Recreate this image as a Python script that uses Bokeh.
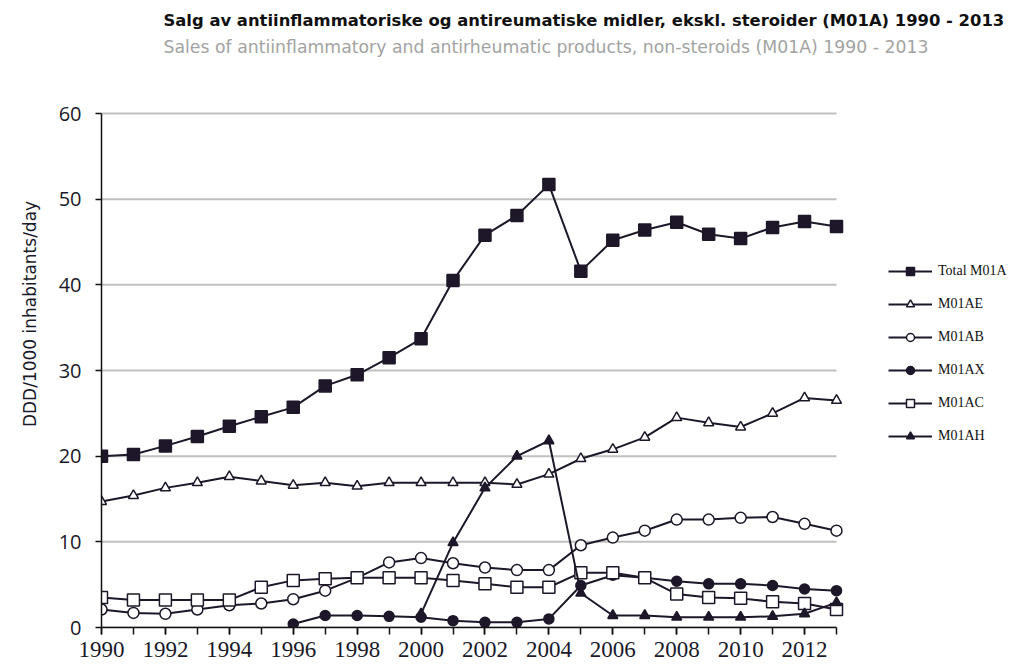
from bokeh.plotting import figure
from bokeh.models import (ColumnDataSource, FixedTicker, Range1d, Label, Legend, LegendItem)
from bokeh.embed import file_html
from bokeh.resources import INLINE

years = list(range(1990, 2014))

total_m01a = [20.0, 20.2, 21.2, 22.3, 23.5, 24.6, 25.7, 28.2, 29.5, 31.5, 33.7, 40.5,
              45.8, 48.1, 51.7, 41.6, 45.2, 46.4, 47.3, 45.9, 45.4, 46.7, 47.4, 46.8]
m01ae = [14.7, 15.4, 16.3, 16.9, 17.6, 17.1, 16.6, 16.9, 16.5, 16.9, 16.9, 16.9,
         16.9, 16.7, 17.9, 19.7, 20.8, 22.2, 24.5, 23.9, 23.4, 25.0, 26.8, 26.5]
m01ab = [2.1, 1.7, 1.6, 2.1, 2.6, 2.8, 3.3, 4.3, 5.8, 7.6, 8.1, 7.5,
         7.0, 6.7, 6.7, 9.6, 10.5, 11.3, 12.6, 12.6, 12.8, 12.9, 12.1, 11.3]
m01ax_years = list(range(1996, 2014))
m01ax = [0.4, 1.4, 1.4, 1.3, 1.2, 0.8, 0.6, 0.6, 1.0, 4.9, 6.1, 5.8,
         5.4, 5.1, 5.1, 4.9, 4.5, 4.3]
m01ac = [3.5, 3.2, 3.2, 3.2, 3.2, 4.7, 5.5, 5.7, 5.8, 5.8, 5.8, 5.5,
         5.1, 4.7, 4.7, 6.4, 6.4, 5.8, 3.9, 3.5, 3.4, 3.0, 2.8, 2.1]
m01ah_years = list(range(2000, 2014))
m01ah = [1.6, 9.9, 16.3, 20.0, 21.8, 4.0, 1.4, 1.4, 1.2, 1.2, 1.2, 1.3, 1.6, 2.9]

x_tick_labels = [str(y) for y in range(1990, 2014, 2)]
y_ticks = [0, 10, 20, 30, 40, 50, 60]

title_text = "Salg av antiinflammatoriske og antireumatiske midler, ekskl. steroider (M01A) 1990 - 2013"
subtitle_text = "Sales of antiinflammatory and antirheumatic products, non-steroids (M01A) 1990 - 2013"
y_label = "DDD/1000 inhabitants/day"

# ---- layout (pixels) ----
W, H = 1015, 667
AX_L, AX_R, AX_T, AX_B = 101, 836, 113, 627   # axes box wanted on the page
X0, X1, Y0, Y1 = 1990, 2013, 0, 60
# frame spans to the right and top edge so titles/legend live inside it
x_end = X0 + (X1 - X0) * (W - AX_L) / (AX_R - AX_L)
y_end = Y0 + (Y1 - Y0) * AX_B / (AX_B - AX_T)

p = figure(width=W, height=H, output_backend="svg", toolbar_location=None,
           x_range=Range1d(X0, x_end), y_range=Range1d(Y0, y_end),
           min_border_left=AX_L, min_border_right=0,
           min_border_top=0, min_border_bottom=H - AX_B)
p.outline_line_color = None
p.background_fill_color = "white"
p.border_fill_color = "white"

line_col = "#1d1729"

# grid (limited to the axes box)
p.xgrid.grid_line_color = None
p.ygrid.grid_line_color = None
p.segment(x0=[X0] * len(y_ticks), x1=[X1] * len(y_ticks), y0=y_ticks, y1=y_ticks,
          line_color="#c0c0c0", line_width=2)

# axes
p.xaxis.bounds = (X0, X1)
p.xaxis.ticker = FixedTicker(ticks=[int(t) for t in x_tick_labels], minor_ticks=years)
p.xaxis.axis_line_color = "#111111"
p.xaxis.axis_line_width = 1.5
p.xaxis.major_tick_line_color = "#111111"
p.xaxis.major_tick_line_width = 1.5
p.xaxis.minor_tick_line_color = "#111111"
p.xaxis.minor_tick_line_width = 1.5
p.xaxis.major_tick_in = 0
p.xaxis.major_tick_out = 7
p.xaxis.minor_tick_in = 0
p.xaxis.minor_tick_out = 7
p.xaxis.major_label_text_font = "Liberation Serif"
p.xaxis.major_label_text_font_size = "23px"
p.xaxis.major_label_text_color = "#1a1a2a"
p.xaxis.major_label_standoff = 7

p.yaxis.bounds = (Y0, Y1)
p.yaxis.ticker = FixedTicker(ticks=y_ticks)
p.yaxis.axis_line_color = "#111111"
p.yaxis.axis_line_width = 1.5
p.yaxis.major_tick_line_color = "#111111"
p.yaxis.major_tick_line_width = 1.5
p.yaxis.major_tick_in = 0
p.yaxis.major_tick_out = 6
p.yaxis.minor_tick_line_color = None
p.yaxis.major_label_text_font = "Open Sans"
p.yaxis.major_label_text_font_size = "20px"
p.yaxis.major_label_text_color = "#1a1a2a"
p.yaxis.major_label_standoff = 14
p.yaxis.axis_label = y_label
p.yaxis.axis_label_text_font = "DejaVu Sans"
p.yaxis.axis_label_text_font_size = "17px"
p.yaxis.axis_label_text_font_style = "normal"
p.yaxis.axis_label_text_color = "#1a1a2a"
p.yaxis.axis_label_standoff = 16

def series(xs, ys, marker, fill, size):
    src = ColumnDataSource(dict(x=xs, y=ys))
    l = p.line("x", "y", source=src, line_color=line_col, line_width=2)
    s = p.scatter("x", "y", source=src, marker=marker, size=size,
                  line_color=line_col, line_width=1.5, fill_color=fill)
    return [l, s]

r_total = series(years, total_m01a, "square", line_col, 12)
r_ae = series(years, m01ae, "triangle", "white", 10)
r_ab = series(years, m01ab, "circle", "white", 11)
r_ax = series(m01ax_years, m01ax, "circle", line_col, 10)
r_ac = series(years, m01ac, "square", "white", 12)
r_ah = series(m01ah_years, m01ah, "triangle", line_col, 10)

legend = Legend(items=[
    LegendItem(label="Total M01A", renderers=r_total),
    LegendItem(label="M01AE", renderers=r_ae),
    LegendItem(label="M01AB", renderers=r_ab),
    LegendItem(label="M01AX", renderers=r_ax),
    LegendItem(label="M01AC", renderers=r_ac),
    LegendItem(label="M01AH", renderers=r_ah),
], location=(888 - AX_L, AX_B - 446))
legend.border_line_color = None
legend.background_fill_alpha = 0
legend.padding = 0
legend.margin = 0
legend.spacing = 13
legend.glyph_width = 44
legend.glyph_height = 20
legend.label_height = 20
legend.label_standoff = 6
legend.label_text_font = "Liberation Serif"
legend.label_text_font_size = "14px"
legend.label_text_color = "#111111"
p.add_layout(legend, "center")

t1 = Label(x=163 - AX_L, y=AX_B - 20, x_units="screen", y_units="screen", text=title_text,
           text_font="DejaVu Sans", text_font_style="bold", text_font_size="16.4px",
           text_color="#111111", text_baseline="middle", text_align="left")
t2 = Label(x=163 - AX_L, y=AX_B - 46, x_units="screen", y_units="screen", text=subtitle_text,
           text_font="DejaVu Sans", text_font_size="17.3px",
           text_color="#a3a3a3", text_baseline="middle", text_align="left")
p.add_layout(t1)
p.add_layout(t2)

open("out.html", "w").write(file_html(p, INLINE))
